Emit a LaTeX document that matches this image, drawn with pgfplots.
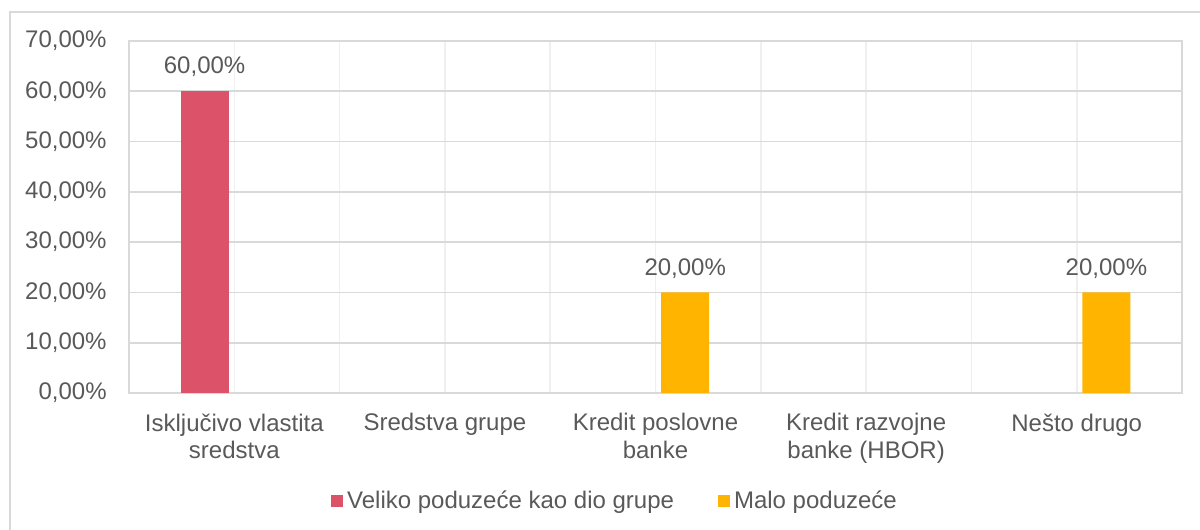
\documentclass[border=0pt]{standalone}
\usepackage{fontspec}
\setmainfont{Liberation Sans}
\usepackage{pgfplots}
\pgfplotsset{compat=1.18}
\definecolor{txt}{HTML}{595959}
\definecolor{gridd}{HTML}{D9D9D9}
\definecolor{gridl}{HTML}{EFEFEF}
\definecolor{cred}{HTML}{DC5369}
\definecolor{cyel}{HTML}{FFB400}
\newcommand{\lblfont}{\fontsize{12}{13.7}\selectfont}
\begin{document}
\begin{tikzpicture}
\useasboundingbox (0,0) rectangle (600pt,265pt);
\draw[gridd, line width=0.7pt] (5pt,-5pt) rectangle (610pt,259pt);
\begin{axis}[
  at={(64.5pt,68.5pt)}, anchor=south west,
  scale only axis, width=526.5pt, height=176pt,
  xmin=-0.5, xmax=4.5, ymin=0, ymax=70,
  ybar=5.7pt, bar width=24pt,
  xtick={0,1,2,3,4},
  minor xtick={0.5,1.5,2.5,3.5},
  xticklabels={{Isključivo vlastita\\sredstva},{Sredstva grupe},{Kredit poslovne\\banke},{Kredit razvojne\\banke (HBOR)},{Nešto drugo}},
  xticklabel style={align=center, anchor=north, inner sep=0pt, yshift=-10.1pt, font=\lblfont, text=txt},
  ytick={0,10,20,30,40,50,60,70},
  yticklabels={{0,00\%},{10,00\%},{20,00\%},{30,00\%},{40,00\%},{50,00\%},{60,00\%},{70,00\%}},
  yticklabel style={anchor=east, inner sep=0pt, xshift=-11pt, font=\lblfont, text=txt},
  major tick length=0pt, minor tick length=0pt,
  xmajorgrids, xminorgrids, ymajorgrids,
  x grid style={gridl, line width=0.8pt},
  minor grid style={gridd, line width=0.8pt},
  y grid style={gridd, line width=0.8pt},
  axis line style={gridd, line width=0.8pt},
  nodes near coords={\pgfmathprintnumber[fixed, fixed zerofill, precision=2, use comma, assume math mode=true]{\pgfplotspointmeta}\%},
  nodes near coords style={font=\lblfont, text=txt, inner sep=0pt, text depth=0pt, yshift=8.5pt},
  legend columns=2,
  legend style={draw=none, fill=none, at={(0.4625,-0.307)}, anchor=center, font=\lblfont, text=txt,
    /tikz/every even column/.append style={column sep=20pt}},
  legend image code/.code={\fill[#1] (0pt,-3pt) rectangle (6pt,3pt);},
]
\addplot[fill=cred, draw=none] coordinates {(0,60)};
\addlegendentry{Veliko poduzeće kao dio grupe}
\addplot[fill=cyel, draw=none] coordinates {(2,20) (4,20)};
\addlegendentry{Malo poduzeće}
\end{axis}
\end{tikzpicture}
\end{document}
